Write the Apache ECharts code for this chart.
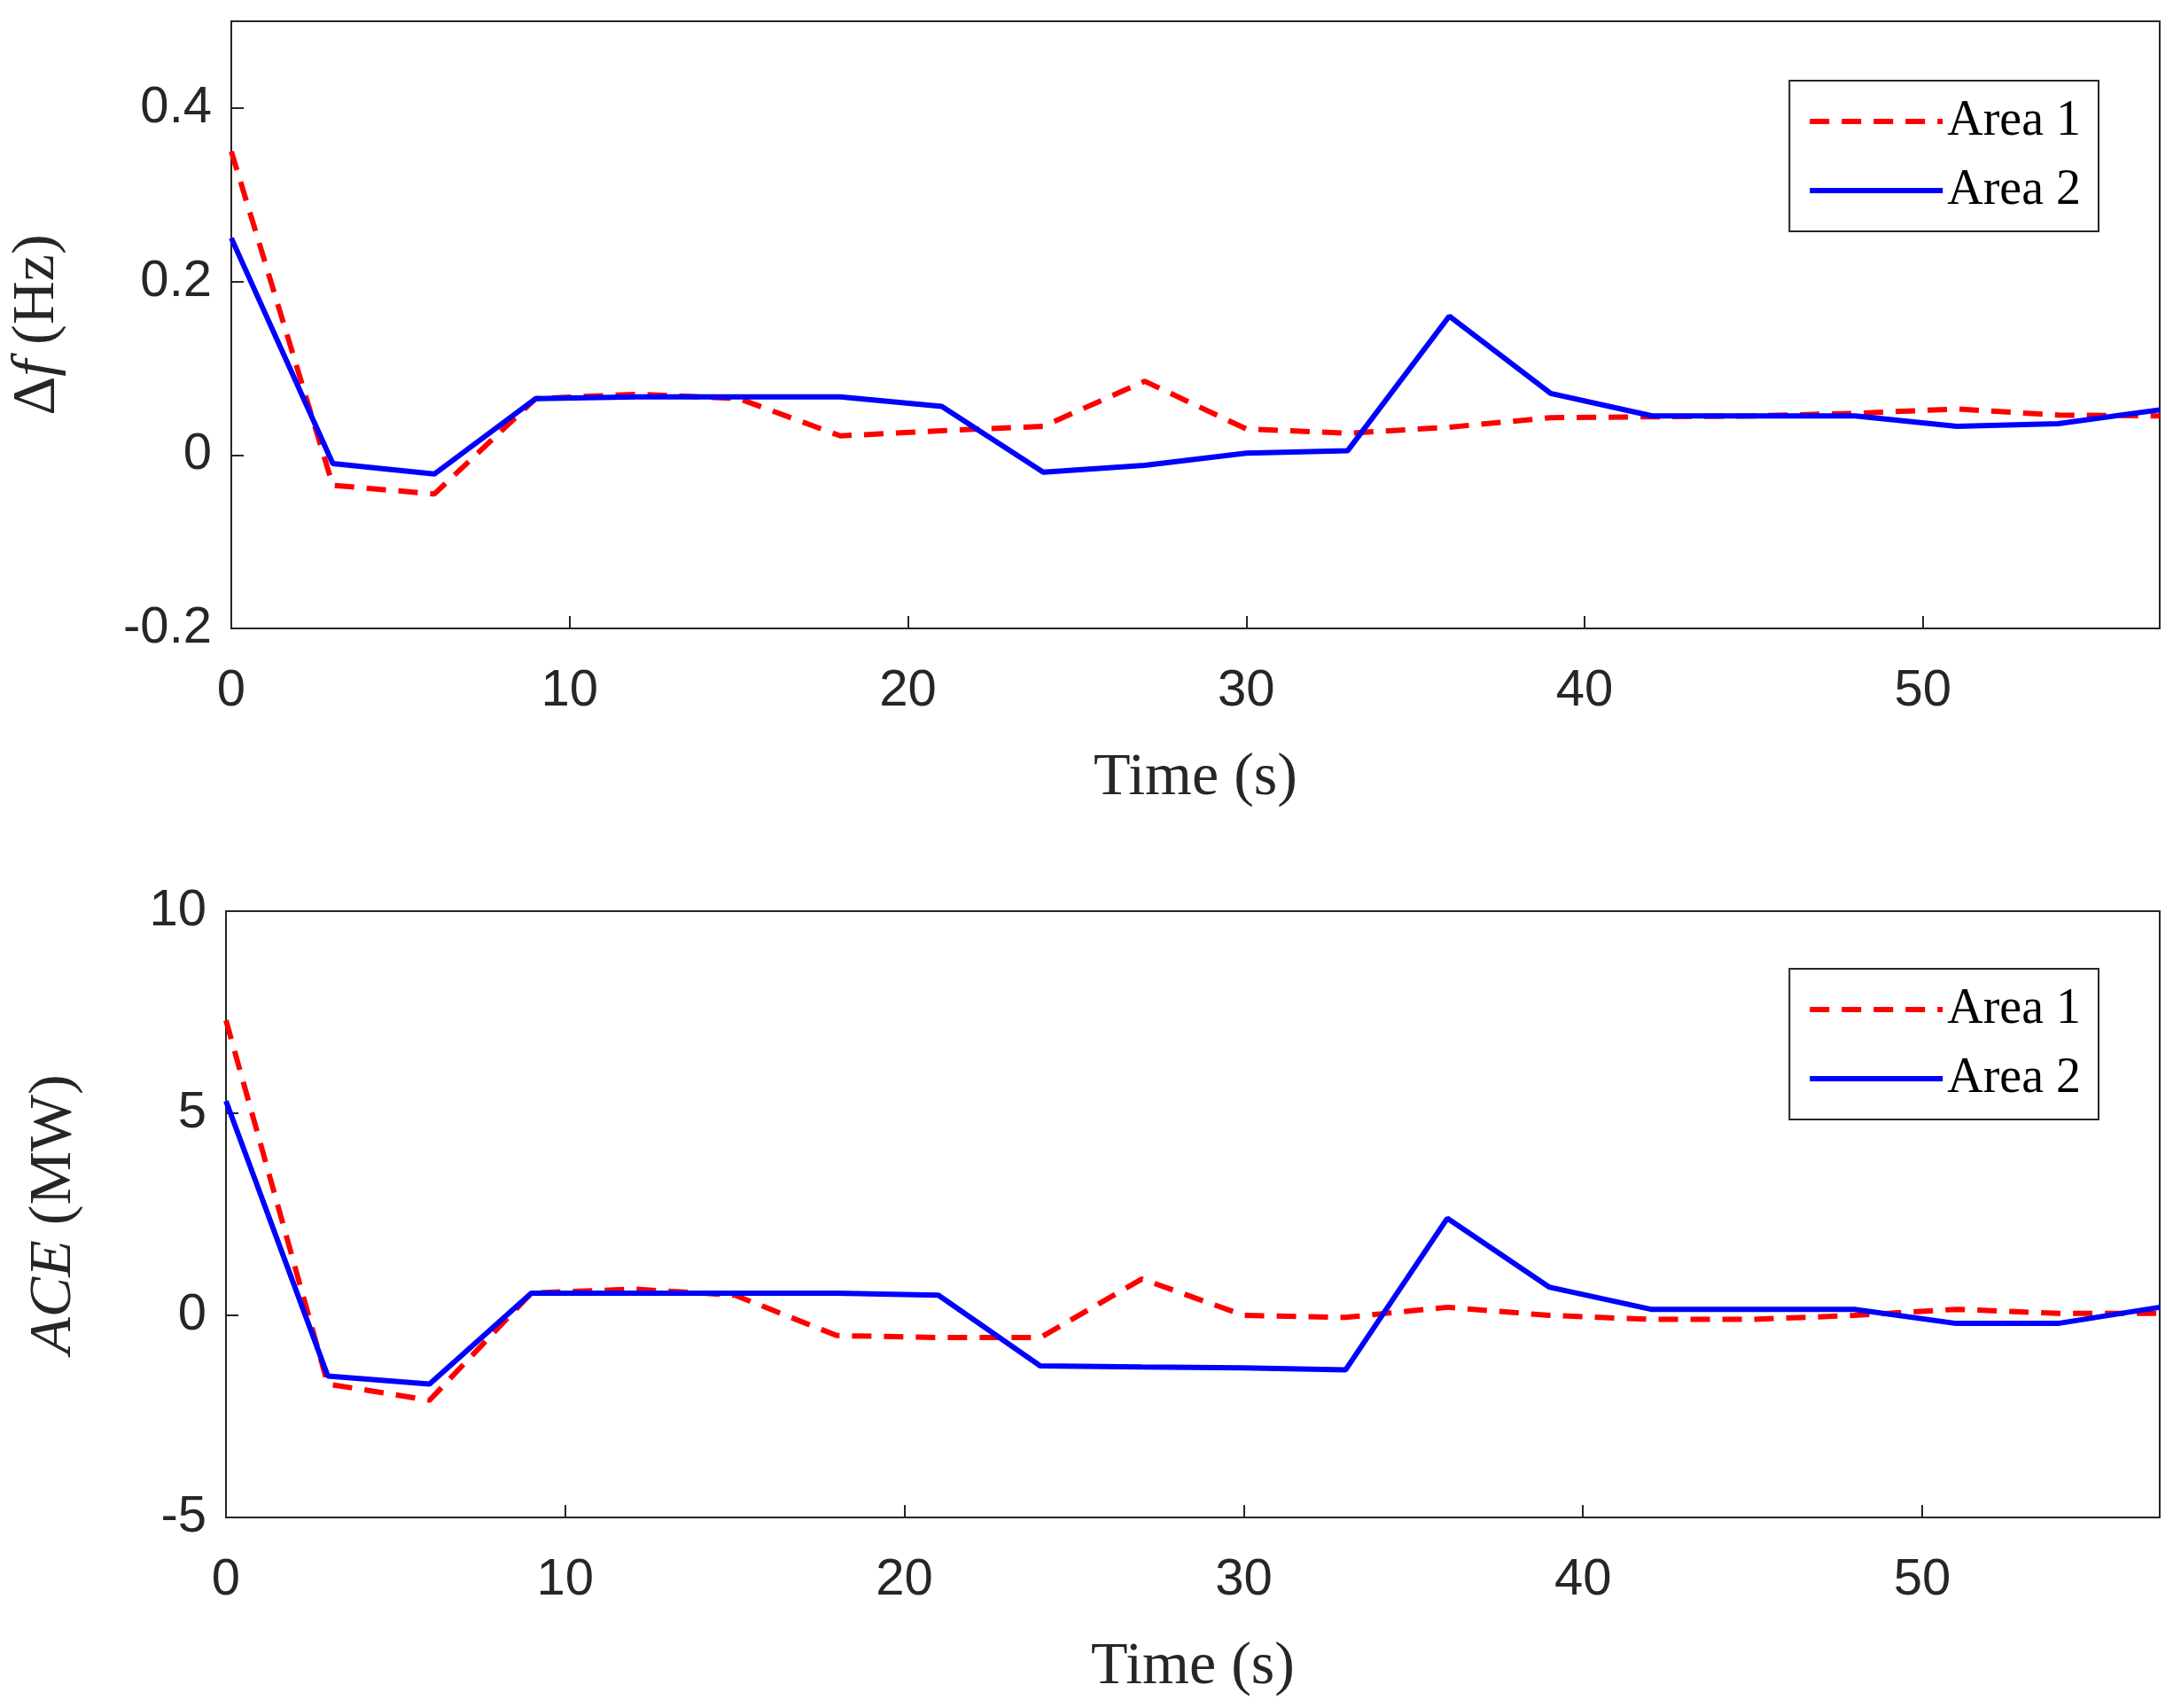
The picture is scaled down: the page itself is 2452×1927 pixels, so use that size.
<!DOCTYPE html>
<html>
<head>
<meta charset="utf-8">
<script src="https://cdn.jsdelivr.net/npm/echarts@6/dist/echarts.min.js"></script>
<style>html,body{margin:0;padding:0;background:#fff}#chart{width:2452px;height:1927px}</style>
</head>
<body>
<div id="chart"></div>
<script>
var time = [0, 3, 6, 9, 12, 15, 18, 21, 24, 27, 30, 33, 36, 39, 42, 45, 48, 51, 54, 57];
var dfArea1 = [0.35, -0.035, -0.045, 0.065, 0.07, 0.065, 0.022, 0.028, 0.033, 0.085, 0.03, 0.025, 0.032, 0.043, 0.044, 0.045, 0.048, 0.053, 0.046, 0.045];
var dfArea2 = [0.25, -0.01, -0.022, 0.065, 0.067, 0.067, 0.067, 0.056, -0.02, -0.012, 0.002, 0.005, 0.16, 0.071, 0.045, 0.045, 0.045, 0.033, 0.036, 0.052];
var aceArea1 = [7.3, -1.7, -2.1, 0.55, 0.65, 0.5, -0.5, -0.55, -0.55, 0.9, 0, -0.05, 0.2, 0, -0.1, -0.1, 0, 0.15, 0.05, 0.05];
var aceArea2 = [5.3, -1.5, -1.7, 0.55, 0.55, 0.55, 0.55, 0.5, -1.25, -1.28, -1.3, -1.35, 2.4, 0.7, 0.15, 0.15, 0.15, -0.2, -0.2, 0.2];

function pairs(ys) {
    return time.map(function (t, i) { return [t, ys[i]]; });
}

var tickFont = {fontFamily: 'Liberation Sans', fontSize: 58, color: '#262626'};
var serif = 'Liberation Serif';

function xAxis(idx) {
    return {
        type: 'value', gridIndex: idx, min: 0, max: 57, interval: 10,
        name: 'Time (s)', nameLocation: 'middle', nameGap: 135,
        nameTextStyle: {fontFamily: serif, fontSize: 68, color: '#262626'},
        axisLine: {show: true, onZero: false, lineStyle: {color: '#262626', width: 2}},
        axisTick: {inside: true, length: 14, lineStyle: {color: '#262626', width: 2}},
        axisLabel: Object.assign({margin: 42, showMaxLabel: false}, tickFont),
        splitLine: {show: false}
    };
}

function yName(text) {
    return {
        nameTextStyle: {rich: {
            n: {fontFamily: serif, fontSize: 68, color: '#262626'},
            i: {fontFamily: serif, fontSize: 68, fontStyle: 'italic', color: '#262626'}
        }},
        name: text
    };
}

var myChart = echarts.init(document.getElementById('chart'));
var option = {
    animation: false,
    backgroundColor: '#fff',
    grid: [
        {left: 255, right: 15, top: 24, height: 685, show: true, borderColor: '#262626', borderWidth: 2},
        {left: 255, right: 15, top: 1028, height: 684, show: true, borderColor: '#262626', borderWidth: 2}
    ],
    legend: [0, 1].map(function (i) {
        return {
            right: 84, top: i === 0 ? 91 : 1093,
            orient: 'vertical', itemWidth: 150, itemHeight: 20, itemGap: 22,
            padding: [18, 20, 18, 20],
            borderColor: '#262626', borderWidth: 2, backgroundColor: '#fff',
            itemStyle: {opacity: 0},
            lineStyle: {width: 6},
            textStyle: {fontFamily: serif, fontSize: 56, color: '#000'},
            data: ['Area 1', 'Area 2']
        };
    }),
    xAxis: [xAxis(0), xAxis(1)],
    yAxis: [
        Object.assign({
            type: 'value', gridIndex: 0, min: -0.2, max: 0.5, interval: 0.2,
            nameLocation: 'middle', nameRotate: 90, nameGap: 185,
            axisLine: {show: true, lineStyle: {color: '#262626', width: 2}},
            axisTick: {inside: true, length: 14, lineStyle: {color: '#262626', width: 2}},
            axisLabel: Object.assign({margin: 22, formatter: function (v) {
                if (v > 0.45) return '';
                return v === 0 ? '0' : String(Math.round(v * 10) / 10);
            }}, tickFont),
            splitLine: {show: false}
        }, yName('{n|Δ}{i|f}{n| (Hz)}')),
        Object.assign({
            type: 'value', gridIndex: 1, min: -5, max: 10, interval: 5,
            nameLocation: 'middle', nameRotate: 90, nameGap: 160,
            axisLine: {show: true, lineStyle: {color: '#262626', width: 2}},
            axisTick: {inside: true, length: 14, lineStyle: {color: '#262626', width: 2}},
            axisLabel: Object.assign({margin: 22}, tickFont),
            splitLine: {show: false}
        }, yName('{i|ACE}{n| (MW)}'))
    ],
    series: [
        {name: 'Area 1', type: 'line', xAxisIndex: 0, yAxisIndex: 0, data: pairs(dfArea1), symbol: 'none',
            color: '#ff0000', lineStyle: {color: '#ff0000', width: 6, type: [22, 14]}},
        {name: 'Area 2', type: 'line', xAxisIndex: 0, yAxisIndex: 0, data: pairs(dfArea2), symbol: 'none',
            color: '#0000ff', lineStyle: {color: '#0000ff', width: 6}},
        {name: 'Area 1', type: 'line', xAxisIndex: 1, yAxisIndex: 1, data: pairs(aceArea1), symbol: 'none',
            color: '#ff0000', lineStyle: {color: '#ff0000', width: 6, type: [22, 14]}},
        {name: 'Area 2', type: 'line', xAxisIndex: 1, yAxisIndex: 1, data: pairs(aceArea2), symbol: 'none',
            color: '#0000ff', lineStyle: {color: '#0000ff', width: 6}}
    ]
};
myChart.setOption(option);
</script>
</body>
</html>
